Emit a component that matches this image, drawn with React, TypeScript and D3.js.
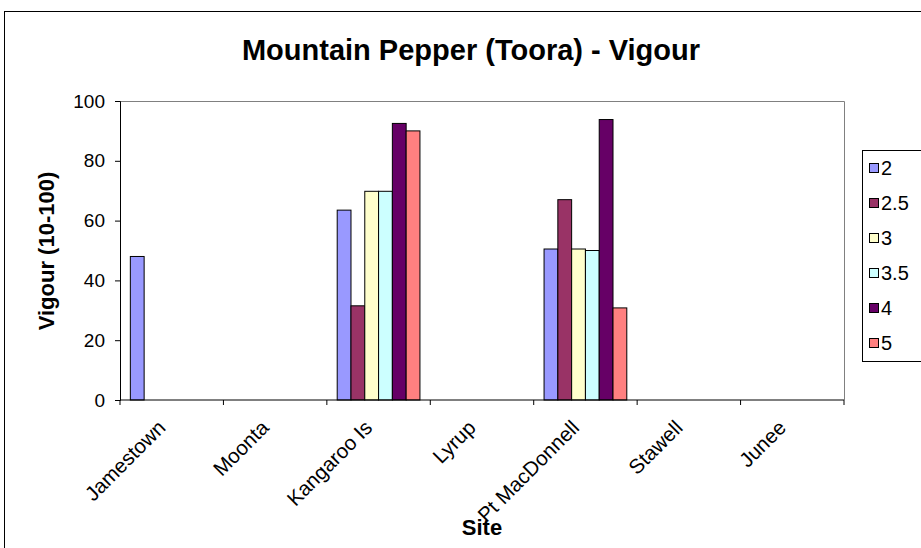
import React, { useEffect, useRef } from 'react';
import * as d3 from 'd3';

// sites along the x axis
const sites = ['Jamestown', 'Moonta', 'Kangaroo Is', 'Lyrup', 'Pt MacDonnell', 'Stawell', 'Junee'];

// series names (legend)
const seriesNames = ['2', '2.5', '3', '3.5', '4', '5'];

// vigour per site, one array per series (null = no bar)
const s2 = [48, null, 63.5, null, 50.5, null, null];
const s25 = [null, null, 31.5, null, 67, null, null];
const s3 = [null, null, 69.8, null, 50.5, null, null];
const s35 = [null, null, 69.8, null, 50, null, null];
const s4 = [null, null, 92.5, null, 93.8, null, null];
const s5 = [null, null, 90, null, 30.8, null, null];

const yTicks = [0, 20, 40, 60, 80, 100];

const colors = ['#9999FF', '#993366', '#FFFFCC', '#CCFFFF', '#660066', '#FF8080'];

const W = 921, H = 548;

const App = () => {
  const ref = useRef<SVGSVGElement>(null);

  useEffect(() => {
    const svg = d3.select(ref.current);
    svg.selectAll('*').remove();

    const allSeries = [s2, s25, s3, s35, s4, s5];
    const margin = { top: 101, right: 77, bottom: 148, left: 120 };
    const w = W - margin.left - margin.right;
    const h = H - margin.top - margin.bottom;
    const font = 'Arial, "Liberation Sans", sans-serif';

    // outer chart border
    svg.append('rect')
      .attr('x', 4.5).attr('y', 11.5)
      .attr('width', W).attr('height', H)
      .attr('fill', 'white').attr('stroke', 'black');

    const g = svg.append('g').attr('transform', `translate(${margin.left},${margin.top})`);

    const x0 = d3.scaleBand().domain(sites).range([0, w]).paddingInner(0).paddingOuter(0);
    // excel gap width 150% -> bars take 6/(6+1.5) of a group
    const gap = x0.bandwidth() * 1.5 / 7.5;
    const x1 = d3.scaleBand().domain(seriesNames).range([gap / 2, x0.bandwidth() - gap / 2]);
    const y = d3.scaleLinear().domain([0, 100]).range([h, 0]);

    // plot area border (gray top and right)
    g.append('path')
      .attr('d', `M0,0.5H${w + 0.5}V${h}`)
      .attr('fill', 'none').attr('stroke', '#808080');

    // bars
    allSeries.forEach((vals, si) => {
      g.append('g').selectAll('rect')
        .data(vals.map((v, i) => ({ site: sites[i], v })).filter(d => d.v !== null))
        .enter().append('rect')
        .attr('x', d => x0(d.site)! + x1(seriesNames[si])!)
        .attr('y', d => y(d.v as number))
        .attr('width', x1.bandwidth())
        .attr('height', d => h - y(d.v as number))
        .attr('fill', colors[si])
        .attr('stroke', 'black').attr('stroke-width', 1);
    });

    // y axis
    const yAxis = g.append('g')
      .call(d3.axisLeft(y).tickValues(yTicks).tickSize(5).tickPadding(10).tickFormat(d3.format('d')));
    yAxis.select('.domain').attr('stroke', 'black');
    yAxis.selectAll('text').attr('font-family', font).attr('font-size', 19).attr('fill', 'black');

    // x axis with ticks at category boundaries
    const xg = g.append('g').attr('transform', `translate(0,${h})`);
    xg.append('line').attr('x1', 0).attr('x2', w).attr('stroke', 'black');
    xg.selectAll('.tk')
      .data(sites.map((s) => x0(s)!).concat([w]))
      .enter().append('line')
      .attr('x1', d => d).attr('x2', d => d)
      .attr('y1', 0).attr('y2', 5).attr('stroke', 'black');
    xg.selectAll('.lbl')
      .data(sites)
      .enter().append('text')
      .attr('transform', d => `translate(${x0(d)! + x0.bandwidth() / 2 - 5},29) rotate(-45)`)
      .attr('text-anchor', 'end')
      .attr('font-family', font).attr('font-size', 20.5)
      .text(d => d);

    // axis titles
    svg.append('text')
      .attr('x', 482).attr('y', 535)
      .attr('text-anchor', 'middle')
      .attr('font-family', font).attr('font-size', 22).attr('font-weight', 'bold')
      .text('Site');
    svg.append('text')
      .attr('transform', 'translate(46,251) rotate(-90)')
      .attr('text-anchor', 'middle').attr('dominant-baseline', 'central')
      .attr('font-family', font).attr('font-size', 22).attr('font-weight', 'bold')
      .text('Vigour (10-100)');

    // title
    svg.append('text')
      .attr('x', 471).attr('y', 60)
      .attr('text-anchor', 'middle')
      .attr('font-family', font).attr('font-size', 29).attr('font-weight', 'bold')
      .text('Mountain Pepper (Toora) - Vigour');

    // legend
    const lg = svg.append('g');
    lg.append('rect')
      .attr('x', 862.5).attr('y', 150.5).attr('width', 80).attr('height', 211)
      .attr('fill', 'white').attr('stroke', 'black');
    seriesNames.forEach((name, i) => {
      const cy = 168 + i * 35;
      lg.append('rect')
        .attr('x', 869.5).attr('y', cy - 4.5).attr('width', 9).attr('height', 9)
        .attr('fill', colors[i]).attr('stroke', 'black');
      lg.append('text')
        .attr('x', 881).attr('y', cy)
        .attr('dominant-baseline', 'central')
        .attr('font-family', font).attr('font-size', 20)
        .text(name);
    });
  }, []);

  return (
    <svg ref={ref} width={W} height={H}
      style={{ position: 'absolute', left: 0, top: 0, background: 'white' }} />
  );
};

export default App;
